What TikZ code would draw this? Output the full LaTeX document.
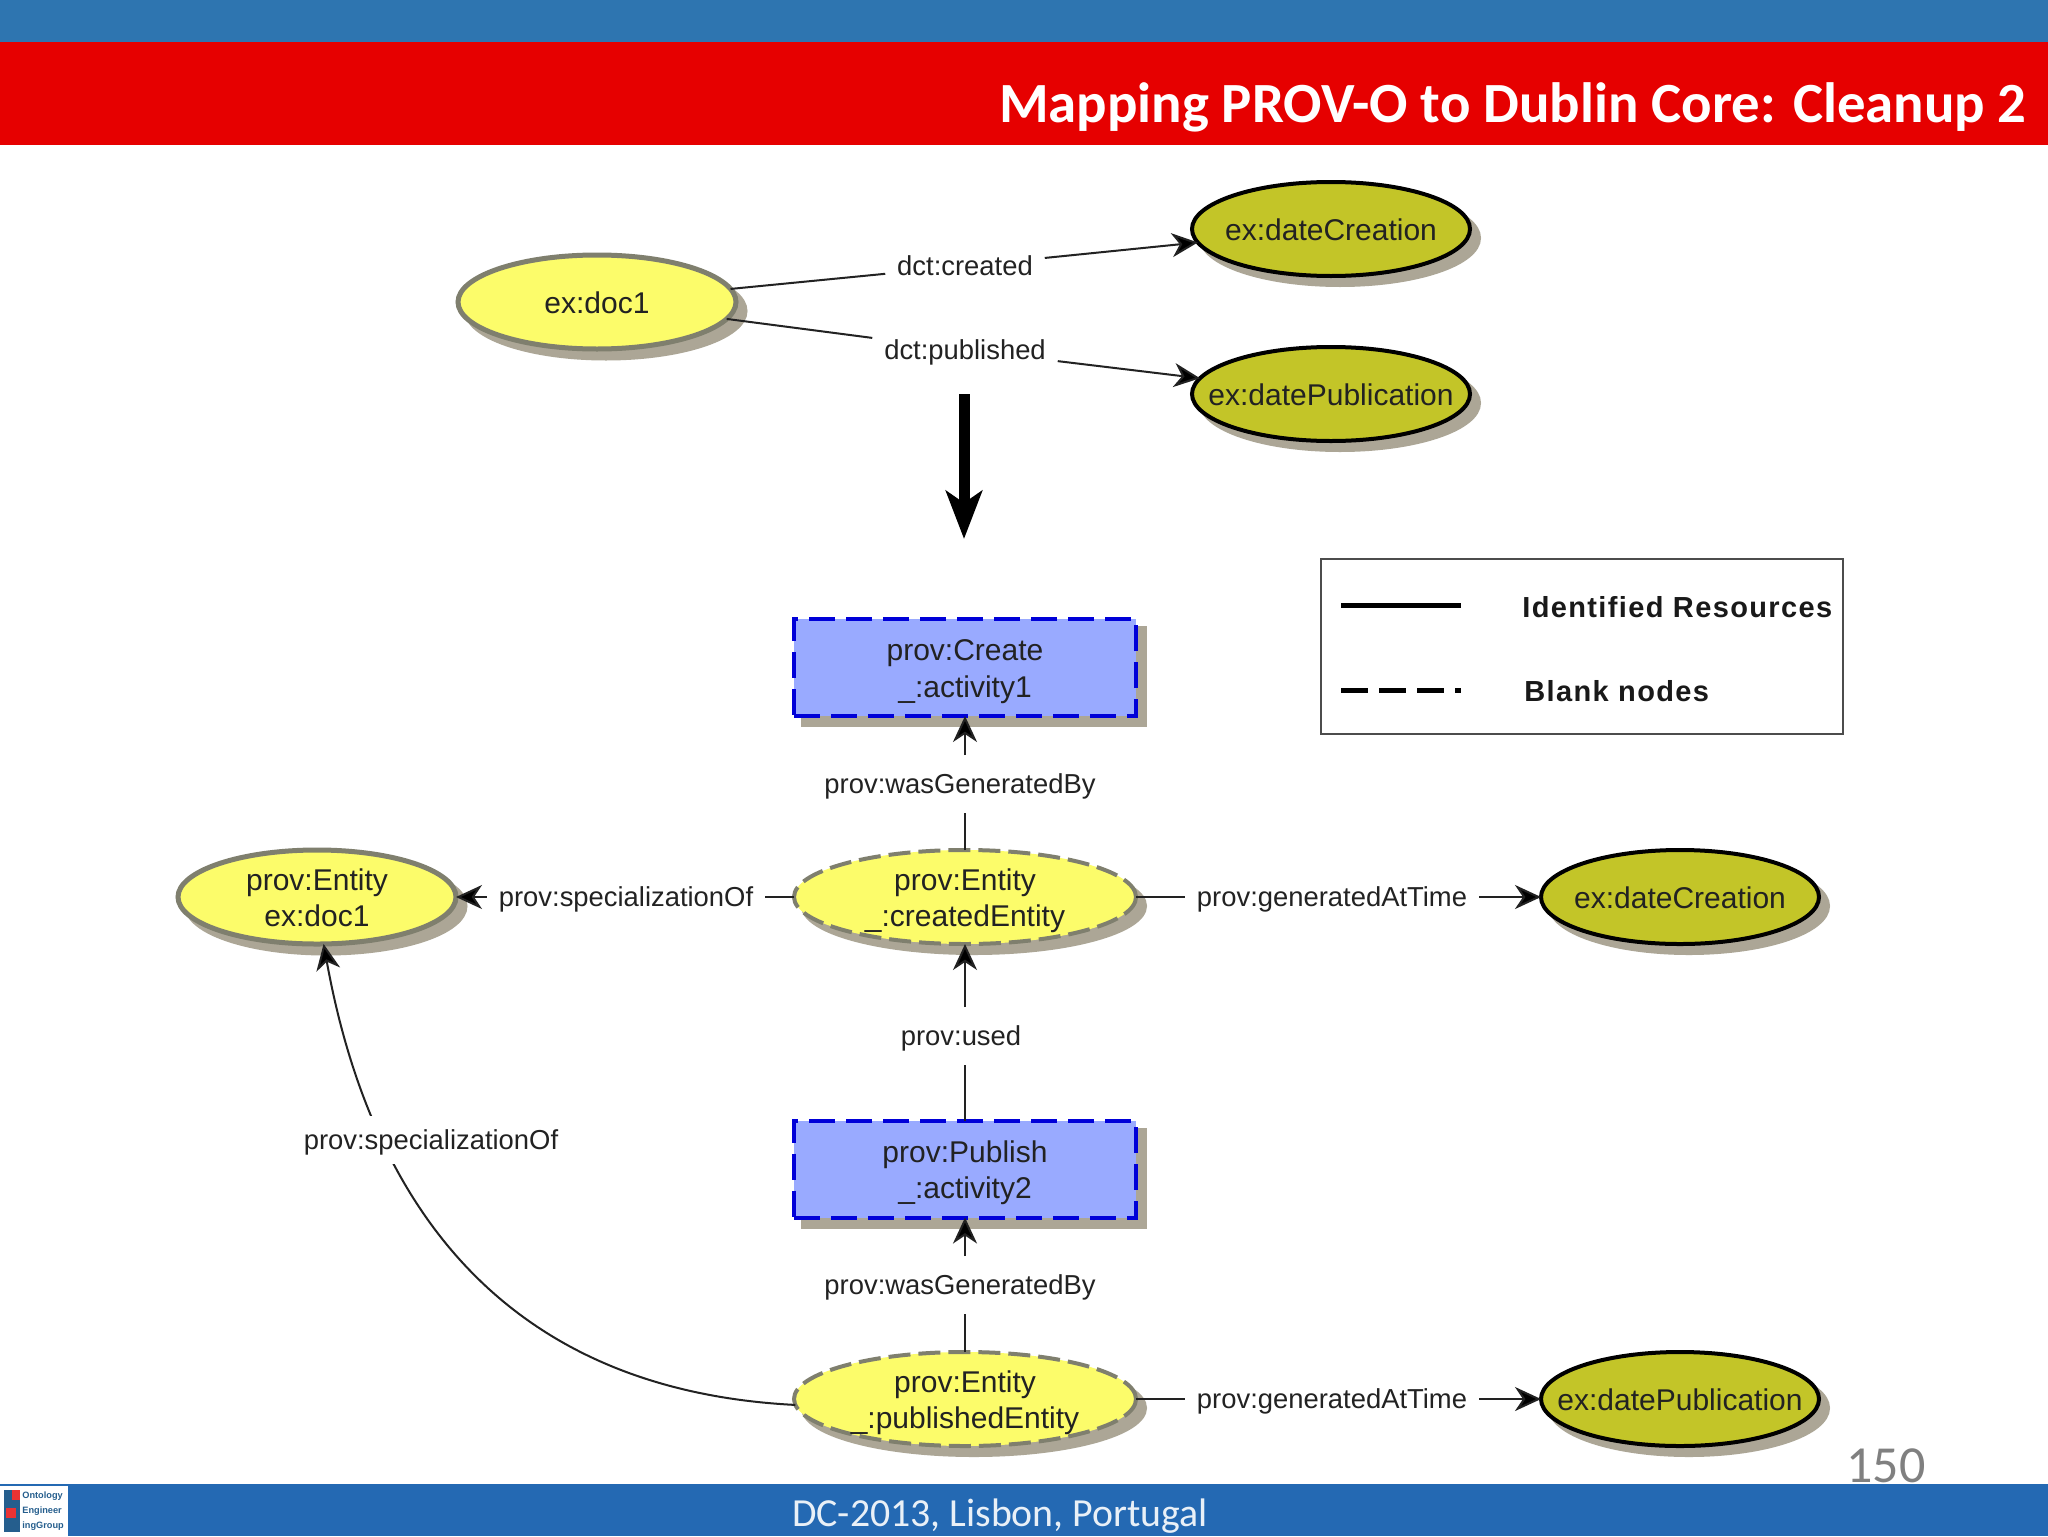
\documentclass[tikz,border=0pt]{standalone}
\usepackage{fontspec}
\setmainfont{Liberation Sans}
\newfontfamily\carlito{Carlito}
\usetikzlibrary{shapes.geometric,arrows.meta,shadows}
\definecolor{topblue}{HTML}{2E75B0}
\definecolor{barred}{HTML}{E60000}
\definecolor{footblue}{HTML}{2469B3}
\definecolor{shadowc}{HTML}{ACA696}
\definecolor{litefill}{HTML}{FCFC6A}
\definecolor{olive}{HTML}{C3C528}
\definecolor{ringgray}{HTML}{7F7F6E}
\definecolor{periw}{HTML}{99AAFF}
\definecolor{dashblue}{HTML}{0000D8}
\definecolor{inkc}{HTML}{222222}
\newcommand\oneln[1]{\makebox[0pt]{\raisebox{-5.5pt}[0pt][0pt]{#1}}}
\newcommand\twoln[2]{\makebox[0pt]{\raisebox{-5.6pt}[0pt][0pt]{\begin{tabular}{@{}c@{}}#1\\#2\end{tabular}}}}
\tikzset{
  x=0.5pt,y=-0.5pt,
  shad/.style={general shadow={shadow xshift=4.5pt,shadow yshift=-4.5pt,fill=shadowc,draw=shadowc,solid}},
  ell/.style={ellipse,inner sep=0pt,outer sep=0pt,minimum width=139pt,minimum height=47pt,
     font=\fontsize{15}{18.3}\selectfont,text=inkc,shad},
  resnode/.style={ell,draw=ringgray,line width=2.5pt,fill=litefill},
  litnode/.style={ell,draw=black,line width=2pt,fill=olive},
  blanknode/.style={ell,minimum width=171pt,draw=ringgray,line width=2pt,fill=litefill,dash pattern=on 11pt off 4pt},
  actnode/.style={rectangle,inner sep=0pt,outer sep=0pt,minimum width=171pt,minimum height=48.5pt,
     font=\fontsize{15}{18.3}\selectfont,text=inkc,draw=dashblue,line width=2pt,fill=periw,
     dash pattern=on 13pt off 5.5pt,shad},
  lab/.style={rectangle,fill=white,inner xsep=6pt,inner ysep=0pt,outer sep=0pt,minimum height=29pt,
     text height=11pt,text depth=1.2pt,
     font=\fontsize{13.7}{17}\selectfont,text=inkc},
  conn/.style={draw=inkc,line width=1pt},
  arr/.style={conn,-{Stealth[length=13pt,width=12pt,inset=4pt,fill=black]}},
  legline/.style={draw=black,line width=2.5pt},
  legtext/.style={anchor=west,inner sep=0pt,font=\fontsize{14.5}{17}\bfseries\addfontfeature{LetterSpace=4.7}\selectfont,text=black!90},
}
\begin{document}
\begin{tikzpicture}
\useasboundingbox (0,0) rectangle (2048,1536);
\fill[white] (0,0) rectangle (2048,1536);
\fill[topblue] (0,0) rectangle (2048,42);
\fill[barred] (0,42) rectangle (2048,145);
\fill[footblue] (0,1484) rectangle (2048,1536);
\node (title) [anchor=east,inner sep=0pt,text=white,font=\carlito\fontsize{28.4}{32}\bfseries\selectfont] at (2027,107) {Mapping PROV-O to Dublin Core: Cleanup 2};
\node (foot) [inner sep=0pt,text=white!90!footblue,font=\carlito\fontsize{19.9}{23}\selectfont] at (1000,1516) {DC-2013, Lisbon, Portugal};
\node (pageno) [inner sep=0pt,text=black!50,font=\carlito\fontsize{26}{30}\selectfont] at (1886,1466) {150};
% logo
\fill[white] (0,1486) rectangle (68,1536);
\fill[topblue!80!black] (4,1490) rectangle (20,1532);
\fill[barred!80] (12,1490) rectangle (20,1500);
\fill[barred!80] (6,1508) rectangle (16,1518);
\node (logotext) [anchor=west,align=left,inner sep=0pt,text=topblue!80!black,font=\fontsize{4.6}{7.4}\bfseries\selectfont] at (22,1511) {Ontology\\Engineer\\ingGroup};
% top graph
\node[resnode] (doc) at (597,302) {\oneln{ex:doc1}};
\node[litnode] (dc) at (1331,229) {\oneln{ex:dateCreation}};
\node[litnode] (dp) at (1331,394) {\oneln{ex:datePublication}};
\node[lab] (lcr) at (965,266) {dct:created};
\node[lab] (lpu) at (965,350) {dct:published};
\draw[conn] (doc) -- (lcr);
\draw[arr] (lcr) -- (dc);
\draw[conn] (doc) -- (lpu);
\draw[arr] (lpu) -- (dp);
% big arrow
\coordinate (bigs) at (964,394);
\coordinate (bige) at (964,539);
\draw[draw=black,line width=5.5pt,-{Stealth[length=24pt,width=18pt,inset=6pt]}] (bigs) -- (bige);
% legend
\node (legend) [draw=black!70,line width=1.3pt,fill=white,minimum width=261pt,minimum height=87.5pt,inner sep=0pt] at (1582,646.5) {};
\coordinate (la) at (1341,605);
\coordinate (lb) at (1461,605);
\coordinate (lc) at (1341,690);
\coordinate (ld) at (1461,690);
\draw[legline] (la) -- (lb);
\draw[legline,dash pattern=on 13.5pt off 5.5pt] (lc) -- (ld);
\node[legtext] (lt1) at (1522,607) {Identified Resources};
\node[legtext] (lt2) at (1524,691) {Blank nodes};
% lower graph
\node[actnode] (create) at (965,667.5) {\twoln{prov:Create}{\_:activity1}};
\node[blanknode] (ce) at (965,897) {\twoln{prov:Entity}{\_:createdEntity}};
\node[resnode] (ent) at (317,897) {\twoln{prov:Entity}{ex:doc1}};
\node[litnode] (dc2) at (1680,897) {\oneln{ex:dateCreation}};
\node[actnode] (publish) at (965,1169) {\twoln{prov:Publish}{\_:activity2}};
\node[blanknode] (pe) at (965,1399) {\twoln{prov:Entity}{\_:publishedEntity}};
\node[litnode] (dp2) at (1680,1399) {\oneln{ex:datePublication}};
\draw[arr] (pe.182) .. controls (500,1390) and (370,1200) .. (ent.-82);
\node[lab,minimum height=24pt] (ls2) at (431,1140) {prov:specializationOf};
\node[lab] (lg1) at (960,784) {prov:wasGeneratedBy};
\node[lab] (ls1) at (626,897) {prov:specializationOf};
\node[lab] (lt3) at (1332,897) {prov:generatedAtTime};
\node[lab] (lu) at (961,1036) {prov:used};
\node[lab] (lg2) at (960,1285) {prov:wasGeneratedBy};
\node[lab] (lt4) at (1332,1399) {prov:generatedAtTime};
\draw[conn] (ce.north) -- (ce.north |- lg1.south);
\draw[arr] (ce.north |- lg1.north) -- (create.south);
\draw[conn] (ce.west) -- (ls1.east);
\draw[arr] (ls1.west) -- (ent.east);
\draw[conn] (ce.east) -- (lt3.west);
\draw[arr] (lt3.east) -- (dc2.west);
\draw[conn] (publish.north) -- (publish.north |- lu.south);
\draw[arr] (publish.north |- lu.north) -- (ce.south);
\draw[conn] (pe.north) -- (pe.north |- lg2.south);
\draw[arr] (pe.north |- lg2.north) -- (publish.south);
\draw[conn] (pe.east) -- (lt4.west);
\draw[arr] (lt4.east) -- (dp2.west);
\end{tikzpicture}
\end{document}
